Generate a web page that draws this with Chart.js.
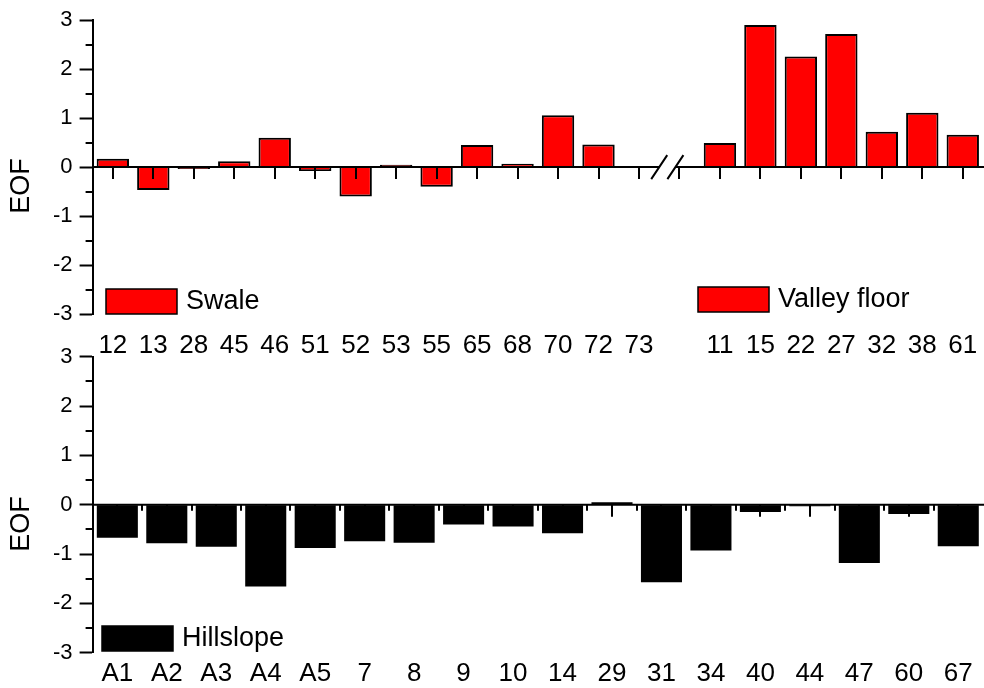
<!DOCTYPE html>
<html>
<head>
<meta charset="utf-8">
<script src="https://cdn.jsdelivr.net/npm/chart.js@4.4.1/dist/chart.umd.min.js"></script>
<style>
  body { margin: 0; background: #fff; }
  #wrap { position: relative; width: 984px; height: 688px; }
  canvas { position: absolute; left: 0; }
  #top { top: 0; }
  #bottom { top: 330px; }
</style>
</head>
<body>
<div id="wrap">
  <canvas id="top" width="984" height="360"></canvas>
  <canvas id="bottom" width="984" height="358"></canvas>
</div>
<script>
// data
var swaleLabels = ['12','13','28','45','46','51','52','53','55','65','68','70','72','73'];
var swaleValues = [0.17,-0.47,-0.04,0.12,0.60,-0.08,-0.60,0.05,-0.40,0.45,0.07,1.06,0.46,0];
var valleyLabels = ['11','15','22','27','32','38','61'];
var valleyValues = [0.49,2.90,2.26,2.72,0.72,1.11,0.66];
var hillLabels = ['A1','A2','A3','A4','A5','7','8','9','10','14','29','31','34','40','44','47','60','67'];
var hillValues = [-0.67,-0.78,-0.85,-1.66,-0.88,-0.74,-0.77,-0.40,-0.44,-0.58,0.05,-1.57,-0.93,-0.15,-0.03,-1.18,-0.19,-0.84];
var yMin = -3, yMax = 3, yStep = 1;

Chart.defaults.font.family = "'Liberation Sans', Arial, sans-serif";
Chart.defaults.color = '#000';

// top panel: swale, one empty slot for the break, valley floor
var topLabels = swaleLabels.concat([''], valleyLabels);
var swaleData = swaleValues.concat(valleyLabels.map(function(){ return null; }), [null]);
var valleyData = swaleLabels.map(function(){ return null; }).concat([null], valleyValues);

// zero line, x ticks, minor y ticks, axis break, legend boxes and y title
var extras = {
  id: 'extras',
  afterDatasetsDraw: function(chart, args, o) {
    var ctx = chart.ctx, ca = chart.chartArea;
    var x = chart.scales.x, y = chart.scales.y;
    var y0 = y.getPixelForValue(0);
    var n = chart.data.labels.length;
    var step = x.getPixelForValue(1) - x.getPixelForValue(0);
    ctx.save();
    ctx.strokeStyle = '#000';
    ctx.lineWidth = 2;
    ctx.beginPath();
    ctx.moveTo(ca.left, y0); ctx.lineTo(ca.right + 1, y0);
    for (var i = 0; i < n; i++) {
      var px = Math.round(x.getPixelForValue(i));
      ctx.moveTo(px, y0); ctx.lineTo(px, y0 + 12);
      if (o.minor) {
        var pm = Math.round(x.getPixelForValue(i) - step / 2);
        if (i > 0) { ctx.moveTo(pm, y0); ctx.lineTo(pm, y0 + 6); }
      }
    }
    // minor y ticks
    for (var v = yMin + yStep / 2; v < yMax; v += yStep) {
      var py = Math.round(y.getPixelForValue(v));
      ctx.moveTo(ca.left - 7, py); ctx.lineTo(ca.left, py);
    }
    ctx.stroke();

    if (o.breakAt != null) {
      var bx = x.getPixelForValue(o.breakAt);
      var b1 = bx + step * 0.5, b2 = bx + step * 0.9;
      ctx.fillStyle = '#fff';
      ctx.fillRect(b1, y0 - 3, b2 - b1, 6);
      ctx.beginPath();
      [b1, b2].forEach(function(c) {
        ctx.moveTo(c - 8, y0 + 12); ctx.lineTo(c + 8, y0 - 12);
      });
      ctx.stroke();
    }

    (o.legend || []).forEach(function(l) {
      var ds = chart.data.datasets[l.ds];
      ctx.fillStyle = ds.backgroundColor;
      ctx.fillRect(l.x, l.y, 71, 25);
      ctx.lineWidth = 1.5;
      ctx.strokeRect(l.x, l.y, 71, 25);
      ctx.fillStyle = '#000';
      ctx.font = "27px 'Liberation Sans', Arial, sans-serif";
      ctx.textBaseline = 'middle';
      ctx.textAlign = 'left';
      ctx.fillText(ds.label, l.x + 80, l.y + 13);
    });

    ctx.translate(22, o.titleY);
    ctx.rotate(-Math.PI / 2);
    ctx.font = "27px 'Liberation Sans', Arial, sans-serif";
    ctx.textAlign = 'center';
    ctx.textBaseline = 'middle';
    ctx.fillStyle = '#000';
    ctx.fillText('EOF', 0, 0);
    ctx.restore();
  }
};

function yAxis() {
  return {
    min: yMin, max: yMax,
    ticks: { stepSize: yStep, padding: 7, font: { size: 22 } },
    grid: { drawOnChartArea: false, tickLength: 13, tickWidth: 2, tickColor: '#000' },
    border: { color: '#000', width: 2 },
    afterFit: function(s) { s.width = 92.6; }
  };
}

function xAxis(h, pad) {
  return {
    ticks: { autoSkip: false, maxRotation: 0, padding: pad, font: { size: 26 } },
    grid: { display: false, drawTicks: false },
    border: { display: false },
    afterFit: function(s) { s.height = h; s.paddingLeft = 0; s.paddingRight = 0; }
  };
}

new Chart(document.getElementById('top'), {
  type: 'bar',
  data: {
    labels: topLabels,
    datasets: [
      { label: 'Swale', data: swaleData, backgroundColor: '#ff0000', borderColor: '#000', borderWidth: 2,
        grouped: false, categoryPercentage: 1, barPercentage: 0.8 },
      { label: 'Valley floor', data: valleyData, backgroundColor: '#ff0000', borderColor: '#000', borderWidth: 2,
        grouped: false, categoryPercentage: 1, barPercentage: 0.8 }
    ]
  },
  options: {
    responsive: false,
    animation: false,
    layout: { padding: { top: 20, right: 1, left: 0, bottom: 0 } },
    plugins: {
      legend: { display: false },
      tooltip: { enabled: false },
      extras: {
        breakAt: swaleLabels.length - 1,
        titleY: 186,
        legend: [{ ds: 0, x: 106, y: 289 }, { ds: 1, x: 698, y: 287 }]
      }
    },
    scales: { x: xAxis(46, 16), y: yAxis() }
  },
  plugins: [extras]
});

new Chart(document.getElementById('bottom'), {
  type: 'bar',
  data: {
    labels: hillLabels,
    datasets: [
      { label: 'Hillslope', data: hillValues, backgroundColor: '#000', borderWidth: 0,
        categoryPercentage: 1, barPercentage: 0.83 }
    ]
  },
  options: {
    responsive: false,
    animation: false,
    layout: { padding: { top: 26.7, right: 1, left: 0, bottom: 0 } },
    plugins: {
      legend: { display: false },
      tooltip: { enabled: false },
      extras: {
        minor: true,
        titleY: 194,
        legend: [{ ds: 0, x: 102, y: 296 }]
      }
    },
    scales: { x: xAxis(35.3, 6), y: yAxis() }
  },
  plugins: [extras]
});
</script>
</body>
</html>
